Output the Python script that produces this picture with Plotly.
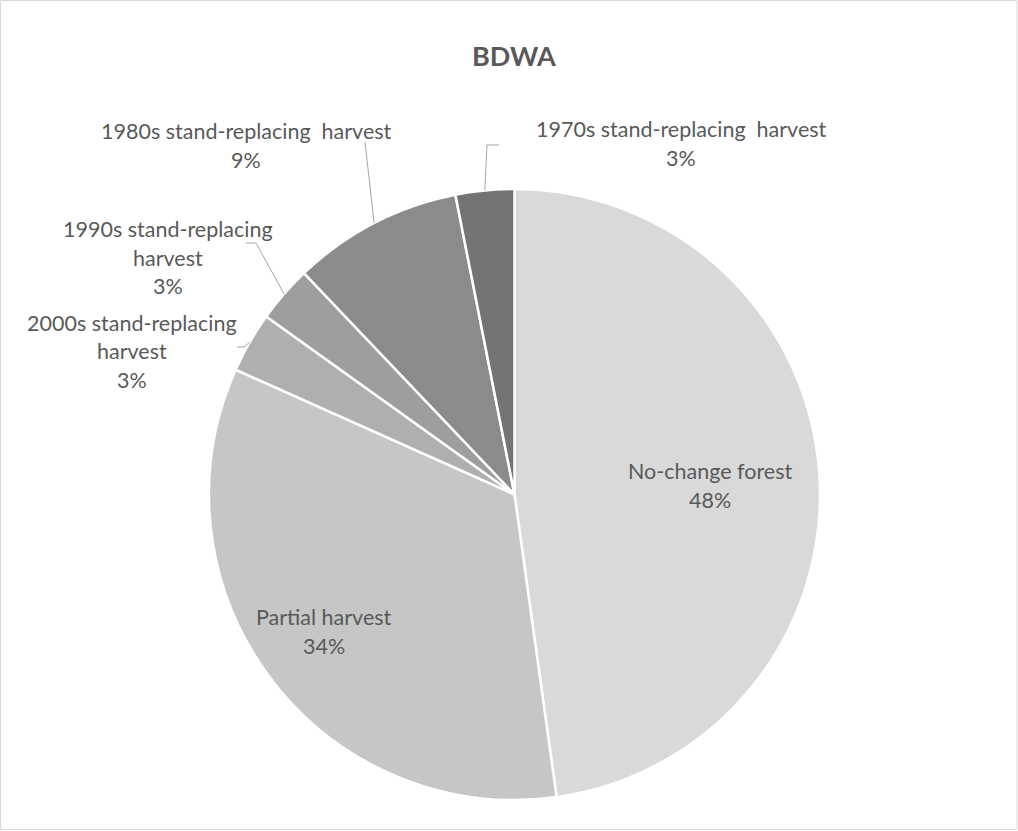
import math
import plotly.graph_objects as go

# ---- data ----
categories = ["No-change forest", "Partial harvest", "2000s stand-replacing harvest",
              "1990s stand-replacing harvest", "1980s stand-replacing  harvest",
              "1970s stand-replacing  harvest"]
values = [47.8, 33.9, 3.2, 3.0, 9.0, 3.1]
colors = ["#d9d9d9", "#c6c6c6", "#afafaf", "#9e9e9e", "#8b8b8b", "#747474"]
# label lines as displayed (Excel wraps text)
label_lines = [
    ["No-change forest"],
    ["Partial harvest"],
    ["2000s stand-replacing", "harvest"],
    ["1990s stand-replacing", "harvest"],
    ["1980s stand-replacing  harvest"],
    ["1970s stand-replacing  harvest"],
]

W, H = 1018, 831
CX, CY, R = 514.5, 494.5, 305.5

# label anchor (centre x, first-line y) in pixels, and leader elbow/end points
label_pos = [(710, 471), (324, 617), (132, 323), (168, 229), (246, 131), (681, 129)]
leaders = [None, None,
           [(244, 347), (237, 347)],
           [(256, 243), (246, 243)],
           [(365, 142)],
           [(487, 145), (499, 145)]]
LINE_H = 28.5

def px(x):
    return x / W

def py(y):
    return 1 - y / H

fig = go.Figure(go.Pie(
    labels=categories, values=values, sort=False, direction="clockwise",
    rotation=0, textinfo="none", hoverinfo="label+percent",
    marker=dict(colors=colors, line=dict(color="white", width=2.5)),
    domain=dict(x=[px(CX - R), px(CX + R)], y=[py(CY + R), py(CY - R)]),
    showlegend=False,
))

total = sum(values)
annotations = []
shapes = []
cum = 0
font = dict(family="Lato, Calibri, sans-serif", size=21.5, color="#595959")
for i, v in enumerate(values):
    mid = (cum + v / 2) / total * 2 * math.pi
    cum += v
    pct = f"{round(v / total * 100)}%"
    lines = label_lines[i] + [pct]
    lx, ly = label_pos[i]
    for k, t in enumerate(lines):
        annotations.append(dict(x=px(lx), y=py(ly + k * LINE_H), xref="paper", yref="paper",
                                text=t, showarrow=False, xanchor="center", yanchor="middle",
                                font=font))
    if leaders[i]:
        sx = CX + R * math.sin(mid)
        sy = CY - R * math.cos(mid)
        pts = [(sx, sy)] + leaders[i]
        path = "M " + " L ".join(f"{px(a)},{py(b)}" for a, b in pts)
        shapes.append(dict(type="path", xref="paper", yref="paper", path=path,
                           line=dict(color="#a6a6a6", width=1)))

annotations.append(dict(x=px(514), y=py(55), xref="paper", yref="paper", text="<b>BDWA</b>",
                        showarrow=False, xanchor="center", yanchor="middle",
                        font=dict(family="Lato, Calibri, sans-serif", size=27, color="#595959")))

shapes.append(dict(type="rect", xref="paper", yref="paper", x0=px(0.5), x1=px(1017),
                   y0=py(829.5), y1=py(0.5), line=dict(color="#d9d9d9", width=1)))

fig.update_layout(width=W, height=H, margin=dict(l=0, r=0, t=0, b=0),
                  paper_bgcolor="white", plot_bgcolor="white",
                  annotations=annotations, shapes=shapes)
fig.write_html("out.html")
